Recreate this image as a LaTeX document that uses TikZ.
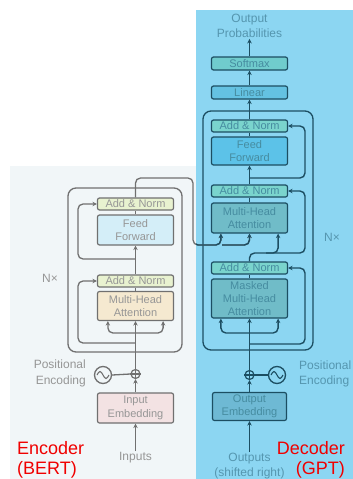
\documentclass[tikz,border=0pt]{standalone}
\usepackage{fontspec}
\setmainfont{Liberation Sans}
\usetikzlibrary{arrows.meta}
\definecolor{decbg}{RGB}{140,214,242}
\definecolor{encbg}{RGB}{241,246,248}
\definecolor{egray}{RGB}{112,112,112}
\definecolor{etxt}{RGB}{150,150,150}
\definecolor{eAN}{RGB}{232,242,208}
\definecolor{eFF}{RGB}{212,238,248}
\definecolor{eMH}{RGB}{245,233,208}
\definecolor{eEM}{RGB}{243,226,227}
\definecolor{dline}{RGB}{28,78,98}
\definecolor{dtxt}{RGB}{70,140,160}
\definecolor{dlab}{RGB}{85,150,175}
\definecolor{dAN}{RGB}{122,212,205}
\definecolor{dFF}{RGB}{92,194,232}
\definecolor{dMH}{RGB}{112,188,200}
\definecolor{dEM}{RGB}{110,185,212}
\definecolor{dSM}{RGB}{112,204,205}
\definecolor{dLN}{RGB}{100,194,226}
\definecolor{redlab}{RGB}{240,0,0}
\tikzset{
  blk/.style={draw, rounded corners=2pt, line width=1.2pt, inner sep=0pt, align=center,
              font=\fontsize{11}{13.5}\selectfont, minimum width=76pt},
  ebox/.style={blk, draw=egray, text=etxt},
  dbox/.style={blk, draw=dline, text=dtxt},
  stackbox/.style={draw, rounded corners=8pt, line width=1.3pt, inner sep=0pt},
  arr/.style={-{Stealth[length=4.5pt,width=4.5pt]}},
  eln/.style={draw=egray, line width=1.3pt, rounded corners=5pt},
  dln/.style={draw=dline, line width=1.4pt, rounded corners=5pt},
  elab/.style={text=etxt, font=\fontsize{12}{16}\selectfont, inner sep=1pt},
  dlabs/.style={text=dlab, font=\fontsize{12}{15}\selectfont, inner sep=1pt},
  redtext/.style={text=redlab, font=\fontsize{18}{20}\selectfont, inner sep=0pt},
  plusnode/.style={circle, draw, line width=1.2pt, minimum size=9pt, inner sep=0pt},
  sinnode/.style={circle, draw, line width=1.3pt, minimum size=17pt, inner sep=0pt}
}
\begin{document}
\begin{tikzpicture}[x=1pt,y=-1pt]
\useasboundingbox (0,0) rectangle (353,479);
% panels
\fill[white] (0,0) rectangle (353,479);
\fill[encbg] (10,166) rectangle (196,479);
\fill[decbg] (196,10) rectangle (353,479);

% ---------------- Encoder ----------------
\node[stackbox, draw=egray, minimum width=114pt, minimum height=164pt] (eStack) at (125,270) {};
\node[ebox, fill=eAN, minimum height=12pt] (eAN2) at (135.5,204) {Add \& Norm};
\node[ebox, fill=eFF, minimum height=30pt] (eFF) at (135.5,230) {Feed\\Forward};
\node[ebox, fill=eAN, minimum height=12pt] (eAN1) at (135.5,281) {Add \& Norm};
\node[ebox, fill=eMH, minimum height=29pt] (eMHA) at (135.5,306) {Multi-Head\\Attention};
\node[ebox, fill=eEM, minimum height=30pt] (eEmb) at (135.5,408) {Input\\Embedding};
\node[plusnode, draw=egray, fill=encbg] (ePlus) at (135.5,374) {};
\draw[egray, line width=1.1pt] (ePlus.north) -- (ePlus.south) (ePlus.west) -- (ePlus.east);
\node[sinnode, draw=egray] (eSin) at (103,375) {};
\draw[egray, line width=1.1pt] (eSin.center) ++(-6,0) sin ++(3,-3.5) cos ++(3,3.5) sin ++(3,3.5) cos ++(3,-3.5);
\node[elab, anchor=north] (eIn) at (135.5,451) {Inputs};
\node[elab, anchor=east, align=right] (ePos) at (87,373) {Positional\\Encoding};
\node[elab] (eN) at (50,278) {N×};
\node[redtext, anchor=west, align=left] (eRed) at (17,460) {Encoder\\(BERT)};

\coordinate (eBr) at (135.5,333);
\coordinate (eRes1) at (135.5,343);
\coordinate (eRes2) at (135.5,259);
\draw[eln, arr] (eIn.north) -- (eEmb.south);
\draw[eln, arr] (eEmb.north) -- (ePlus.south);
\draw[eln] (eSin.east) -- (ePlus.west);
\draw[eln, arr] (ePlus.north) -- (eMHA.south);
\draw[eln, arr] (eBr) -| ([xshift=11pt]eMHA.south west);
\draw[eln, arr] (eBr) -| ([xshift=-11pt]eMHA.south east);
\draw[eln, arr] (eRes1) -- ++(-57.5,0) |- (eAN1.west);
\draw[eln] (eMHA.north) -- (eAN1.south);
\draw[eln, arr] (eAN1.north) -- (eFF.south);
\draw[eln, arr] (eRes2) -- ++(-57.5,0) |- (eAN2.west);
\draw[eln] (eFF.north) -- (eAN2.south);

% ---------------- Decoder ----------------
\node[stackbox, draw=dline, minimum width=110pt, minimum height=239pt] (dStack) at (258,230.5) {};
\node[dbox, fill=dSM, minimum height=13pt] (dSoft) at (249.5,63.5) {Softmax};
\node[dbox, fill=dLN, minimum height=13pt] (dLin) at (249.5,92.5) {Linear};
\node[dbox, fill=dAN, minimum height=12pt] (dAN3) at (249.5,126) {Add \& Norm};
\node[dbox, fill=dFF, minimum height=28pt] (dFF) at (249.5,151) {Feed\\Forward};
\node[dbox, fill=dAN, minimum height=12pt] (dAN2) at (249.5,191) {Add \& Norm};
\node[dbox, fill=dMH, minimum height=30pt] (dMHA) at (249.5,218) {Multi-Head\\Attention};
\node[dbox, fill=dAN, minimum height=12pt] (dAN1) at (249.5,268) {Add \& Norm};
\node[dbox, fill=dMH, minimum height=39pt, font=\fontsize{11}{13}\selectfont] (dMMHA) at (249.5,298.5) {Masked\\Multi-Head\\Attention};
\node[dbox, fill=dEM, minimum height=28pt, minimum width=74pt] (dEmb) at (249.5,406.5) {Output\\Embedding};
\node[plusnode, draw=dline, fill=decbg] (dPlus) at (249.5,375) {};
\draw[dline, line width=1.1pt] (dPlus.north) -- (dPlus.south) (dPlus.west) -- (dPlus.east);
\node[sinnode, draw=dline] (dSin) at (277,375) {};
\draw[dline, line width=1.1pt] (dSin.center) ++(-6,0) sin ++(3,-3.5) cos ++(3,3.5) sin ++(3,3.5) cos ++(3,-3.5);
\node[dlabs, anchor=north, align=center] (dOut) at (249.5,452) {Outputs\\(shifted right)};
\node[dlabs, align=center] (dProb) at (249.5,26) {Output\\Probabilities};
\node[dlabs, anchor=west, align=left] (dPos) at (298,374) {Positional\\Encoding};
\node[dlabs] (dN) at (332,237) {N×};
\node[redtext, anchor=east, align=right] (dRed) at (345,460) {Decoder\\(GPT)};

\coordinate (dBr) at (249.5,333);
\coordinate (dRes1) at (249.5,344);
\coordinate (dSplit) at (249.5,253);
\coordinate (dQx) at (266,253);
\coordinate (dRes3) at (249.5,178);
\draw[dln, arr] (dOut.north) -- (dEmb.south);
\draw[dln, arr] (dEmb.north) -- (dPlus.south);
\draw[dln] (dSin.west) -- (dPlus.east);
\draw[dln, arr] (dPlus.north) -- (dMMHA.south);
\draw[dln, arr] (dBr) -| ([xshift=10pt]dMMHA.south west);
\draw[dln, arr] (dBr) -| ([xshift=-10pt]dMMHA.south east);
\draw[dln, arr] (dRes1) -- ++(55.5,0) |- (dAN1.east);
\draw[dln] (dMMHA.north) -- (dAN1.south);
\draw[dln, arr] (dAN1.north) -- (dSplit) -| ([xshift=-10pt]dMHA.south east);
\draw[dln, arr] (dQx) -- ++(39,0) |- (dAN2.east);
\draw[dln] (dMHA.north) -- (dAN2.south);
\draw[dln, arr] (dAN2.north) -- (dFF.south);
\draw[dln, arr] (dRes3) -- ++(55.5,0) |- (dAN3.east);
\draw[dln] (dFF.north) -- (dAN3.south);
\draw[dln, arr] (dAN3.north) -- (dLin.south);
\draw[dln, arr] (dLin.north) -- (dSoft.south);
\draw[dln, arr] (dSoft.north) -- (dProb.south);

% ---------------- Encoder output to decoder ----------------
\coordinate (encA) at (193,178);
\coordinate (encB) at (193,245);
\coordinate (encK) at (222,245);
\draw[eln, arr] (eAN2.north) |- (encA) -- (encB) -| ([xshift=10pt]dMHA.south west);
\draw[eln, arr] (encK) -| (dMHA.south);
\begin{scope}
\clip (196,0) rectangle (353,479);
\draw[dln, arr] (eAN2.north) |- (encA) -- (encB) -| ([xshift=10pt]dMHA.south west);
\draw[dln, arr] (encK) -| (dMHA.south);
\end{scope}
\end{tikzpicture}
\end{document}
